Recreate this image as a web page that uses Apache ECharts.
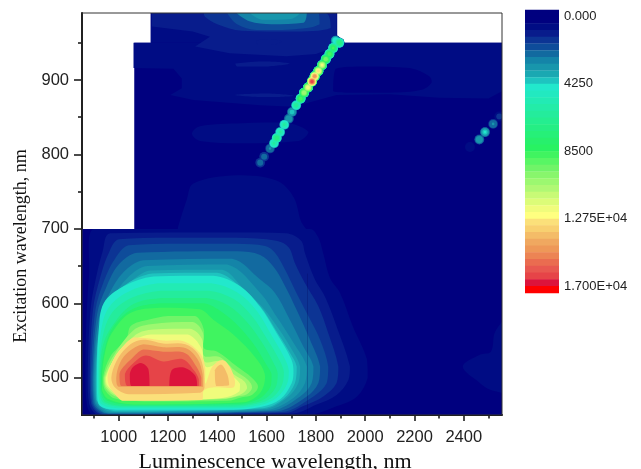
<!DOCTYPE html>
<html><head><meta charset="utf-8">
<style>html,body{margin:0;padding:0;background:#fff}#c{width:641px;height:469px;filter:blur(.45px)}</style>
<script src="https://cdn.jsdelivr.net/npm/echarts@6/dist/echarts.min.js"></script>
</head><body><div id="c"></div>
<script>
// axis ticks
const xMajor=[1000,1200,1400,1600,1800,2000,2200,2400];
const xMinor=[900,1100,1300,1500,1700,1900,2100,2300,2500];
const yMajor=[500,600,700,800,900];
const yMinor=[550,650,750,850,950];
// colour scale (band edge = 425)
const scaleStep=425;
const scaleTicks=[0,4250,8500,12750,17000];
const scaleLabels=["0.000","4250","8500","1.275E+04","1.700E+04"];
const palette=["#00007F","#00007F","#000C84","#081C8C","#0C3494","#0E4C9A","#126AA0","#1484A8","#1896AC","#1AA8B2","#1EC4C0",
"#22E8CC","#22E9C0","#22EBB4","#23ECA8","#24EC9C","#24EE90","#25EE84","#26F078","#27F06C","#28F262",
"#40F460","#58F664","#70F468","#88F66C","#9CF870","#B0F874","#C8FA76","#DCFC78","#F0FC7C","#FFFF80",
"#FBE07A","#F8D070","#F4BC68","#F0A860","#EE9858","#EC8454","#EA6C50","#E85850","#E64448","#DC143C","#FF0000"];
// measured domain (value 0 floor)
const domain=[[851,450],[2555,450],[2555,950],[1886,950],[1886,990],[1130,990],[1130,950],[1063,950],[1063,700],[851,700]];
// main emission lobe, contours [x nm, y nm]
const c425=[[898,700],[1776,700],[1809,689],[1829,668],[1857,634],[1898,614],[1950,569],[2007,525],[2010,500],[1967,475],[1886,462],[1764,450],[900,450],[872,462],[865,500],[868,570],[880,640]];
const c850=[[965,694],[1460,695],[1680,694],[1740,684],[1756,667],[1796,632],[1837,609],[1884,569],[1938,515],[1932,497],[1884,477],[1803,464],[1709,452],[920,450],[880,465],[874,500],[885,590],[905,630],[935,670]];
const c1275=[[1000,686],[1200,688],[1480,688],[1640,684],[1690,675],[1715,654],[1756,627],[1810,596],[1850,560],[1891,515],[1884,493],[1830,475],[1749,462],[1680,453],[930,451],[888,465],[882,500],[895,590],[925,635],[960,668]];
const c1700=[[1040,678],[1240,680],[1480,680],[1594,677],[1634,668],[1675,645],[1715,618],[1763,587],[1817,551],[1850,515],[1844,493],[1790,475],[1660,454],[940,451],[893,465],[887,500],[905,590],[940,630],[985,660]];
const c2125=[[1075,668],[1480,670],[1574,665],[1628,649],[1675,623],[1722,591],[1776,551],[1817,515],[1810,493],[1763,475],[1640,455],[950,452],[898,465],[893,500],[912,585],[950,622],[1000,652]];
const c2550=[[1100,658],[1460,660],[1574,632],[1634,614],[1688,582],[1749,542],[1790,515],[1783,493],[1736,475],[1620,456],[958,452],[903,466],[897,500],[918,578],[960,612],[1020,642]];
const c2975=[[1115,650],[1440,652],[1574,614],[1641,582],[1709,547],[1763,515],[1756,493],[1709,473],[1600,457],[965,453],[907,467],[901,500],[922,570],[970,604],[1035,634]];
const c3400=[[1128,644],[1420,645],[1500,622],[1574,598],[1634,573],[1695,542],[1736,515],[1729,493],[1682,473],[1590,458],[975,454],[910,468],[905,500],[925,565],[962,600],[1045,628]];
const c3825=[[1136,640],[1400,641],[1495,622],[1574,596],[1636,565],[1692,535],[1722,515],[1715,493],[1670,472],[1585,459],[985,455],[910,470],[908,500],[920,560],[950,600],[1032,626]];
const c4250=[[1141,636],[1384,637],[1493,623],[1574,595],[1640,560],[1700,525],[1709,510],[1702,493],[1655,471],[1580,461],[1465,457],[1000,457],[925,462],[912,480],[912,516],[918,560],[939,600],[1020,623]];
const c5100=[[1160,627],[1375,627],[1480,615],[1560,590],[1620,557],[1670,528],[1690,510],[1682,491],[1640,473],[1570,463],[1460,459],[1010,459],[932,464],[917,480],[917,510],[925,555],[955,592],[1035,615]];
const c5950=[[1170,617],[1365,617],[1465,606],[1540,583],[1600,553],[1650,525],[1670,508],[1662,490],[1625,474],[1560,465],[1460,461],[1020,461],[940,466],[922,480],[921,508],[932,550],[968,585],[1050,607]];
const c6800=[[1180,607],[1355,607],[1445,597],[1520,575],[1580,548],[1625,522],[1645,506],[1640,490],[1610,476],[1560,467],[1470,463],[1035,462],[948,467],[926,481],[925,505],[937,545],[985,575],[1060,599]];
const c7650=[[1170,600],[1345,600],[1420,588],[1490,568],[1550,544],[1595,520],[1620,505],[1618,490],[1590,477],[1550,469],[1490,465],[1045,464],[955,469],[930,482],[928,503],[940,535],[975,567],[1055,592]];
const c8500=[[1168,594],[1330,592],[1384,578],[1465,558],[1560,525],[1594,502],[1574,480],[1506,467],[1060,464],[960,471],[932,484],[932,502],[945,535],[972,560],[1047,587]];
const c9350=[[1050,570],[1120,578],[1200,583],[1310,583],[1345,565],[1345,540],[1400,535],[1480,515],[1540,500],[1565,488],[1540,477],[1500,474],[1440,469],[1120,468],[985,472],[942,485],[936,500],[965,528],[1030,552]];
const c10200=[[1060,564],[1130,572],[1300,575],[1342,560],[1345,530],[1410,528],[1470,510],[1525,497],[1541,487],[1520,478],[1480,475],[1420,471],[1130,469],[995,474],[947,486],[940,500],[972,526]];
const c11050=[[1070,558],[1140,565],[1290,566],[1338,552],[1348,522],[1420,522],[1465,505],[1510,495],[1521,486],[1490,477],[1420,472],[1135,470],[1000,475],[950,488],[944,500],[980,524]];
const c11900=[[1065,552],[1130,558],[1280,558],[1335,540],[1352,515],[1400,517],[1450,505],[1492,492],[1490,482],[1420,473],[1140,470],[1005,477],[955,489],[948,500],[985,528],[1030,546]];
const c12750=[[1060,554],[1114,553],[1180,550],[1263,549],[1330,533],[1350,515],[1352,492],[1380,515],[1420,524],[1450,515],[1472,495],[1465,487],[1380,487],[1345,483],[1335,470],[1020,469],[985,478],[960,490],[955,503],[979,525],[1006,538]];
const c13600=[[1030,540],[1070,549],[1110,551],[1180,546],[1270,545],[1322,532],[1345,510],[1348,487],[1330,480],[1040,478],[985,487],[970,500],[990,522]];
const c13600b=[[1390,510],[1415,518],[1440,505],[1448,490],[1395,489]];
const c14450=[[1040,535],[1100,545],[1180,541],[1270,540],[1320,525],[1340,505],[1342,488],[1000,488],[990,500],[1005,520]];
const c15300=[[1050,525],[1100,538],[1180,535],[1270,533],[1315,515],[1335,500],[1335,489],[1010,489],[1003,505],[1020,515]];
const c16150=[[1060,520],[1110,530],[1180,522],[1260,525],[1305,510],[1325,498],[1325,489],[1035,489],[1025,505]];
const c16575a=[[1060,515],[1090,520],[1120,512],[1125,489],[1050,489],[1045,505]];
const c16575b=[[1215,510],[1260,514],[1310,503],[1318,489],[1205,489]];
// weak features above 700 nm and at the right edge
const upper425=[[1060,950],[2555,950],[2555,885],[2500,875],[2300,876],[2100,881],[1884,880],[1709,864],[1574,866],[1303,873],[1209,880],[1256,889],[1256,902],[1222,915],[1060,916]];
const upperHole=[[1880,915],[2000,918],[2180,916],[2260,905],[2270,897],[2230,887],[2100,883],[1950,883],[1870,885]];
const upper425top=[[1130,950],[1130,990],[1886,990],[1886,950]];
const upper850=[[1135,990],[1884,990],[1884,945],[1800,935],[1680,932],[1450,936],[1310,945],[1370,958],[1300,965],[1135,972]];
const upper1275=[[1345,990],[1840,990],[1860,970],[1700,965],[1500,966],[1400,975],[1350,985]];
const upper1700=[[1440,990],[1810,990],[1815,975],[1700,968],[1560,967],[1480,975]];
const upper2550=[[1479,990],[1763,990],[1750,977],[1620,975],[1530,979]];
const upper2975=[[1533,990],[1736,990],[1700,982],[1580,981]];
const spotA=[[1560,953],[1620,955],[1660,951],[1620,947],[1565,947]];
const spotB=[[1473,922],[1600,925],[1695,922],[1600,918],[1480,918]];
const spotC=[[1473,880],[1600,882],[1710,879],[1600,877]];
const patchA=[[1297,828],[1330,838],[1500,842],[1680,843],[1770,830],[1730,818],[1500,815],[1330,818]];
const patchB=[[1240,700],[1276,739],[1303,761],[1480,772],[1640,765],[1709,743],[1740,710],[1760,700]];
const patchC=[[2396,515],[2465,531],[2510,535],[2525,560],[2555,575],[2555,480],[2500,485],[2465,493]];
// [value, outline] in paint order
const contours=[[0,domain],[425,patchB],[425,patchA],[425,patchC],[425,upper425],[425,upper425top],[0,upperHole],
[850,upper850],[850,spotA],[850,spotB],[850,spotC],[1275,upper1275],[1700,upper1700],[2550,upper2550],[2975,upper2975],
[425,c425],[850,c850],[1275,c1275],[1700,c1700],[2125,c2125],[2550,c2550],[2975,c2975],[3400,c3400],[3825,c3825],[4250,c4250],
[5100,c5100],[5950,c5950],[6800,c6800],[7650,c7650],[8500,c8500],[9350,c9350],[10200,c10200],[11050,c11050],[11900,c11900],
[12750,c12750],[13600,c13600],[13600,c13600b],[14450,c14450],[15300,c15300],[16150,c16150],[16575,c16575a],[16575,c16575b]];
const sharpOutlines=[domain,upper425,upper425top,upper850];
// scattered-light ridges [x nm, y nm, peak]
const ridge=[[1574,789,2500],[1590,797,2500],[1614,808,3000],[1630,815,6000],[1641,822,7500],[1655,830,6000],[1672,840,6000],[1690,848,3800],[1703,857,4200],[1720,866,6500],[1738,875,9000],[1752,883,11000],[1768,890,12500],[1784,898,16500],[1795,905,15000],[1810,912,13000],[1825,920,12000],[1840,928,10000],[1855,935,9000],[1870,943,8500],[1895,950,7500],[1880,953,5000]];
const ridge2=[[2425,810,1200],[2463,820,3800],[2486,830,4300],[2519,841,3000],[2544,851,1500]];

const bandOf=v=>v<0?0:Math.min(palette.length-1,Math.floor(v/scaleStep)+1);
const scaleData=palette.map((c,i)=>[(i-1)*scaleStep,i]);
const ringLevels=[425,1275,2125,2975,3825,4250,5100,5950,6800,7650,8500,9350,10200,11050,11900,12750,13600,14450,15300,16150,16575];
const ringData=[];
ringLevels.forEach(L=>ridge.concat(ridge2).forEach(p=>{if(p[2]>=L)ringData.push([p[0],p[1],L,p[2]]);}));

const font='"Liberation Sans",Arial,sans-serif', serif='"Liberation Serif","Times New Roman",serif';
const chart=echarts.init(document.getElementById('c'),null,{renderer:'canvas'});
chart.setOption({
animation:false,backgroundColor:'#fff',
grid:[{left:82,top:13,width:420,height:402,outerBoundsMode:'none',containLabel:false,show:true,borderColor:'#333',borderWidth:1,backgroundColor:'transparent',z:5},
      {left:525,top:9.75,width:34,height:283,outerBoundsMode:'none',containLabel:false}],
xAxis:[
 {type:'value',min:851,max:2555,position:'bottom',gridIndex:0,splitLine:{show:false},
  name:'Luminescence wavelength, nm',nameLocation:'middle',nameGap:32,nameTextStyle:{fontFamily:serif,fontSize:22,color:'#111',padding:[0,34,0,0]},
  axisLine:{lineStyle:{color:'#111',width:2}},axisTick:{length:6,inside:false,customValues:xMajor,lineStyle:{color:'#111',width:1.5}},
  axisLabel:{customValues:xMajor,formatter:v=>String(v),fontFamily:font,fontSize:16.5,color:'#222',margin:14}},
 {type:'value',min:851,max:2555,position:'bottom',gridIndex:0,splitLine:{show:false},
  axisLine:{show:false},axisLabel:{show:false},axisTick:{length:3.5,customValues:xMinor,lineStyle:{color:'#111',width:1.5}}},
 {type:'value',min:0,max:1,gridIndex:1,show:false}
],
yAxis:[
 {type:'value',min:450,max:990,position:'left',gridIndex:0,splitLine:{show:false},
  name:'Excitation wavelength, nm',nameLocation:'middle',nameGap:45,nameTextStyle:{fontFamily:serif,fontSize:18,color:'#111',padding:[0,64,0,0]},
  axisLine:{lineStyle:{color:'#111',width:2}},axisTick:{length:8,customValues:yMajor,lineStyle:{color:'#111',width:1.5}},
  axisLabel:{customValues:yMajor,formatter:v=>String(v),fontFamily:font,fontSize:16.5,color:'#222',margin:13}},
 {type:'value',min:450,max:990,position:'left',gridIndex:0,splitLine:{show:false},
  axisLine:{show:false},axisLabel:{show:false},axisTick:{length:4,customValues:yMinor,lineStyle:{color:'#111',width:1.5}}},
 {type:'value',min:-425,max:17425,inverse:true,position:'right',gridIndex:1,splitLine:{show:false},
  axisLine:{show:false},axisTick:{show:false},
  axisLabel:{customValues:scaleTicks,margin:5,padding:[2,0,0,0],fontFamily:font,fontSize:13,color:'#222',
   formatter:v=>scaleLabels[scaleTicks.indexOf(v)]}}
],
series:[
 {type:'custom',xAxisIndex:0,yAxisIndex:0,clip:true,silent:true,z:1,
  data:contours.map((c,i)=>[c[1][0][0],c[1][0][1],c[0],i]),
  encode:{x:0,y:1},
  renderItem:(p,api)=>{const c=contours[api.value(3)];const pts=c[1].map(q=>api.coord(q));
    return {type:'polygon',shape:{points:pts,smooth:sharpOutlines.includes(c[1])?0:0.35,smoothConstraint:[pts[0],pts[0]]},style:{fill:palette[bandOf(c[0])],stroke:null}};},
  markLine:{silent:true,symbol:'none',label:{show:false},lineStyle:{color:'rgba(0,0,80,.22)',width:1,type:'solid'},
    data:[[{coord:[1765,452]},{coord:[1765,640]}]]}},
 {type:'custom',xAxisIndex:0,yAxisIndex:0,clip:true,silent:true,z:2,
  data:ringData,encode:{x:0,y:1},
  renderItem:(p,api)=>{const c=api.coord([api.value(0),api.value(1)]);const L=api.value(2),v=api.value(3);
    const r=1.2+3.8*(1-Math.pow(L/v,4));
    return {type:'circle',shape:{cx:c[0],cy:c[1],r:r},style:{fill:palette[bandOf(L)]}};}},
 {type:'custom',xAxisIndex:2,yAxisIndex:2,silent:true,
  data:scaleData,encode:{y:0},
  renderItem:(p,api)=>{const a=api.coord([0,api.value(0)]),b=api.coord([1,api.value(0)+scaleStep]);
    return {type:'rect',shape:{x:a[0],y:a[1],width:b[0]-a[0],height:b[1]-a[1]+0.4},style:{fill:palette[api.value(1)]}};}}
]});
</script></body></html>
